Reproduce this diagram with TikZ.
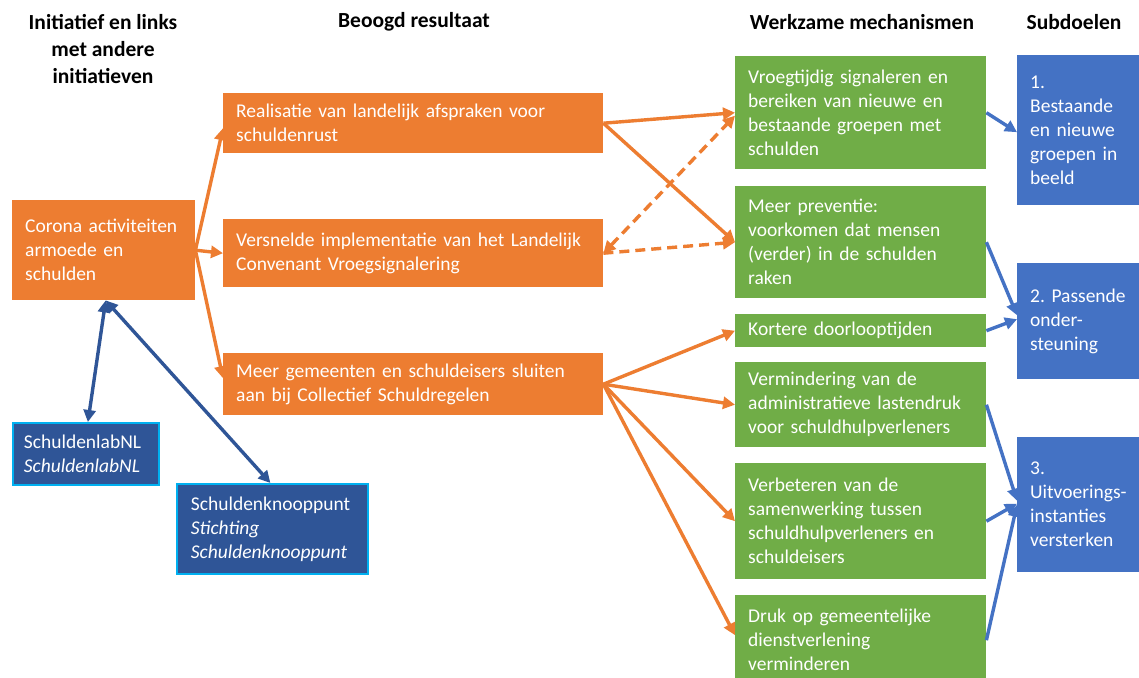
\documentclass[tikz,border=0pt]{standalone}
\usepackage{fontspec}
\setmainfont{Carlito}
\usetikzlibrary{arrows.meta}
\definecolor{cOrange}{HTML}{ED7D31}
\definecolor{cGreen}{HTML}{70AD47}
\definecolor{cBlue}{HTML}{4472C4}
\definecolor{cDark}{HTML}{2F5597}
\definecolor{cCyan}{HTML}{00B0F0}
\begin{document}
\begin{tikzpicture}[x=1pt,y=-1pt,
 bx/.style={anchor=north west, inner xsep=13pt, inner ysep=0pt, align=left, text=white, font=\fontsize{19.5}{24}\selectfont},
 ob/.style={bx, fill=cOrange},
 gb/.style={bx, fill=cGreen},
 bb/.style={bx, fill=cBlue},
 db/.style={bx, fill=cDark, draw=cCyan, line width=1.8pt},
 hd/.style={font=\fontsize{21.5}{27}\selectfont\bfseries, align=center, inner sep=0pt},
 tip/.tip={Triangle[length=12pt,width=12pt]},
 oarr/.style={draw=cOrange, line width=3.4pt, -tip},
 barr/.style={draw=cBlue, line width=3.4pt, -tip},
 darr/.style={draw=cDark, line width=3.4pt, tip-tip},
 dsh/.style={dash pattern=on 10pt off 6pt}
]
\clip (0,0) rectangle (1139,677);
\fill[white] (0,0) rectangle (1139,677);

% headers
\node[hd] (h1) at (103,49) {Initiatief en links\\met andere\\initiatieven};
\node[hd] (h2) at (414,22) {Beoogd resultaat};
\node[hd] (h3) at (862,22) {Werkzame mechanismen};
\node[hd] (h4) at (1074,22) {Subdoelen};

% orange boxes
\node[ob, text width=157pt, minimum height=100pt] (corona) at (12,200) {Corona activiteiten\\armoede en\\schulden};
\node[ob, text width=354pt, minimum height=60pt] (real) at (223,93) {Realisatie van landelijk afspraken voor\\schuldenrust};
\node[ob, text width=354pt, minimum height=68pt] (vers) at (223,219) {Versnelde implementatie van het Landelijk\\Convenant Vroegsignalering};
\node[ob, text width=354pt, minimum height=62pt] (meer) at (223,353) {Meer gemeenten en schuldeisers sluiten\\aan bij Collectief Schuldregelen};

% green boxes
\node[gb, text width=225pt, minimum height=113pt] (vroeg) at (735,56) {Vroegtijdig signaleren en\\bereiken van nieuwe en\\bestaande groepen met\\schulden};
\node[gb, text width=225pt, minimum height=112pt] (prev) at (735,186) {Meer preventie:\\voorkomen dat mensen\\(verder) in de schulden\\raken};
\node[gb, text width=225pt, minimum height=33pt] (kort) at (735,314) {Kortere doorlooptijden};
\node[gb, text width=225pt, minimum height=85pt] (verm) at (735,362) {Vermindering van de\\administratieve lastendruk\\voor schuldhulpverleners};
\node[gb, text width=225pt, minimum height=116pt] (verb) at (735,463) {Verbeteren van de\\samenwerking tussen\\schuldhulpverleners en\\schuldeisers};
\node[gb, text width=225pt, minimum height=90pt] (druk) at (735,595) {Druk op gemeentelijke\\dienstverlening\\verminderen};

% blue boxes
\node[bb, text width=114pt, minimum height=150pt] (s1) at (1017,55) {1.\\Bestaande\\en nieuwe\\groepen in\\beeld};
\node[bb, text width=114pt, minimum height=116pt] (s2) at (1017,263) {2.\ Passende\\onder-\\steuning};
\node[bb, text width=114pt, minimum height=135pt] (s3) at (1017,437) {3.\\Uitvoerings-\\instanties\\versterken};

% dark blue boxes
\node[db, inner xsep=11pt, text width=124pt, minimum height=62pt] (lab) at (12,422) {SchuldenlabNL\\\textit{SchuldenlabNL}};
\node[db, inner xsep=14pt, text width=163pt, minimum height=90pt] (knoop) at (176,483) {Schuldenknooppunt\\\textit{Stichting}\\\textit{Schuldenknooppunt}};

% orange arrows
\draw[oarr] (corona.east) -- ([yshift=-5pt]real.west);
\draw[oarr] (corona.east) -- (vers.west);
\draw[oarr] (corona.east) -- ([yshift=6pt]meer.west);
\draw[oarr] (real.east) -- (vroeg.west);
\draw[oarr] (real.east) -- (prev.west);
\draw[oarr, dsh] (vers.east) -- (prev.west);
\draw[draw=cOrange, line width=3.4pt, dsh, tip-tip] (vers.east) -- ([yshift=-3pt]vroeg.west);
\draw[oarr] (meer.east) -- (kort.west);
\draw[oarr] (meer.east) -- (verm.west);
\draw[oarr] (meer.east) -- (verb.west);
\draw[oarr] (meer.east) -- ([yshift=5pt]druk.west);

% blue arrows
\draw[barr] (vroeg.east) -- ([yshift=-2pt]s1.west);
\draw[barr] (prev.east) -- ([yshift=6pt]s2.west);
\draw[barr] (kort.east) -- ([yshift=2pt]s2.west);
\draw[barr] (verm.east) -- ([yshift=4pt]s3.west);
\draw[barr] (verb.east) -- ([yshift=1pt]s3.west);
\draw[barr] (druk.east) -- (s3.west);

% dark blue double arrows
\draw[darr] ([xshift=2pt]corona.south) -- ([xshift=2pt]lab.north);
\draw[darr] ([xshift=2pt]corona.south) -- ([xshift=-2pt]knoop.north);
\end{tikzpicture}
\end{document}
